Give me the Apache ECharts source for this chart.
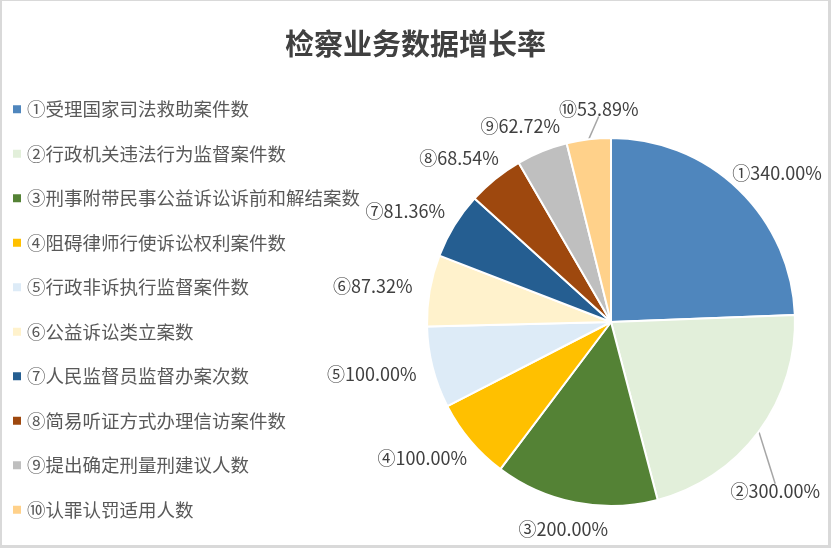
<!DOCTYPE html>
<html><head><meta charset="utf-8">
<script src="https://cdn.jsdelivr.net/npm/echarts@6/dist/echarts.min.js"></script>
<style>
html,body{margin:0;padding:0;background:#fff}
#c{width:831px;height:548px;position:absolute;left:0;top:0}
#b{position:absolute;left:0;top:0;width:826px;height:544px;border:solid #d9d9d9;border-width:1px 3px 3px 2px;pointer-events:none}
</style></head><body>
<div id="c"></div><div id="b"></div>
<script>
const titleText = '检察业务数据增长率';
const categories = [
  '①受理国家司法救助案件数',
  '②行政机关违法行为监督案件数',
  '③刑事附带民事公益诉讼诉前和解结案数',
  '④阻碍律师行使诉讼权利案件数',
  '⑤行政非诉执行监督案件数',
  '⑥公益诉讼类立案数',
  '⑦人民监督员监督办案次数',
  '⑧简易听证方式办理信访案件数',
  '⑨提出确定刑量刑建议人数',
  '⑩认罪认罚适用人数'
];
const values = [340.00, 300.00, 200.00, 100.00, 100.00, 87.32, 81.36, 68.54, 62.72, 53.89];

// styles
const colors = ['#4F86BD','#E2EFDA','#548235','#FFC000','#DDEBF7','#FFF2CC','#255E91','#9E480E','#BFBFBF','#FFD18A'];
const leader = [false,true,false,false,false,false,false,false,false,true];
const nudge = {0:[-5,3], 1:[-34,43], 9:[17,-3]};
const CX = 611, CY = 322, R = 184, GAP = 18;
const FONT = '"Noto Sans CJK SC", "Noto Sans", sans-serif';

const total = values.reduce((a,b)=>a+b,0);
const mids = []; let acc = 0;
values.forEach(v => { mids.push((acc + v/2)/total*2*Math.PI); acc += v; });

const chart = echarts.init(document.getElementById('c'), null, {renderer:'canvas'});
chart.setOption({
  animation:false,
  backgroundColor:'#fff',
  color: colors,
  title:{
    text:titleText, left:'center', top:24,
    textStyle:{fontFamily:FONT, fontSize:29, fontWeight:'bold', color:'#404040'}
  },
  legend:{
    orient:'vertical', left:6, top:95,
    icon:'rect', itemWidth:10, itemHeight:10, itemGap:26,
    data:categories,
    textStyle:{fontFamily:FONT, fontSize:18.5, color:'#595959'}
  },
  series:[{
    type:'pie',
    center:[CX, CY],
    radius:R,
    startAngle:90,
    clockwise:true,
    emphasis:{disabled:true},
    itemStyle:{borderColor:'#fff', borderWidth:2},
    label:{
      show:true, position:'outside', overflow:'none', edgeDistance:0,
      fontFamily:FONT, fontSize:18, color:'#404040',
      formatter: p => p.name.charAt(0) + p.value.toFixed(2) + '%'
    },
    labelLine:{show:true, length:8, length2:0, lineStyle:{color:'#a6a6a6', width:1.5}},
    labelLayout: function(p){
      const i = p.dataIndex, a = mids[i];
      const dx = Math.sin(a), dy = -Math.cos(a);
      const w = p.labelRect.width, h = p.labelRect.height;
      const px = CX + (R+GAP)*dx, py = CY + (R+GAP)*dy;
      const n = nudge[i] || [0,0];
      const x = px + dx*w/2 + n[0], y = py + dy*h/2 + n[1];
      const res = {x:x, y:y, align:'center', verticalAlign:'middle'};
      if (leader[i]) {
        const s = [CX + R*dx, CY + R*dy];
        const e = s[1] > y ? [x, y + h/2 - 2] : [x, y - h/2 + 2];
        res.labelLinePoints = [s, e, e];
      }
      return res;
    },
    data: categories.map((c,i)=>({name:c, value:values[i], labelLine:{show:leader[i]}}))
  }]
});
</script>
</body></html>
